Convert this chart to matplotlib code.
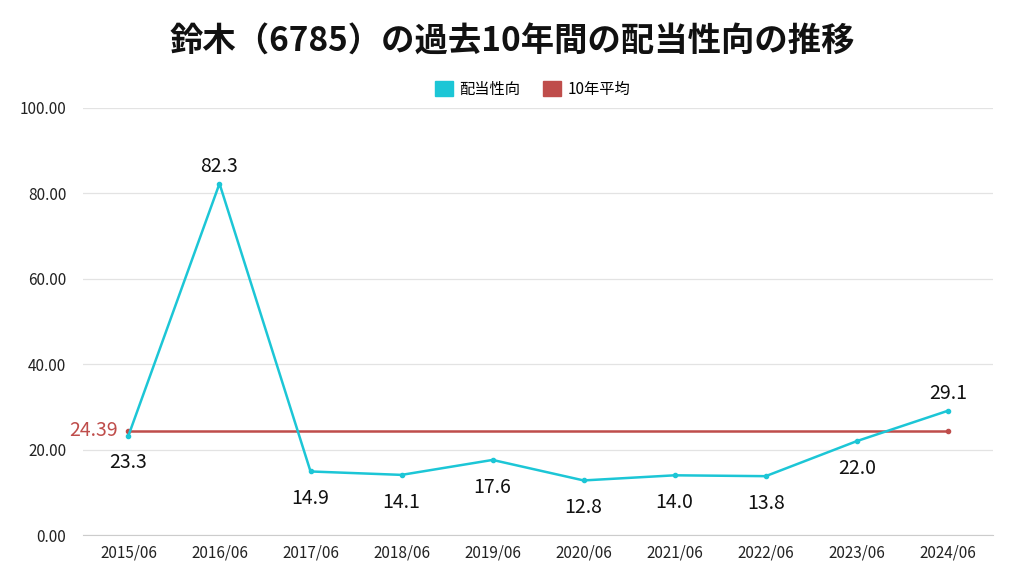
import matplotlib.pyplot as plt
from matplotlib.patches import Patch

plt.rcParams['font.family'] = ['Noto Sans CJK JP', 'DejaVu Sans']

years = ['2015/06', '2016/06', '2017/06', '2018/06', '2019/06',
         '2020/06', '2021/06', '2022/06', '2023/06', '2024/06']
payout = [23.3, 82.3, 14.9, 14.1, 17.6, 12.8, 14.0, 13.8, 22.0, 29.1]
avg10 = 24.39
label_above = [False, True, False, False, False, False, False, False, False, True]

cyan = '#1CC6D6'
red = '#BF4D4B'

fig = plt.figure(figsize=(10.24, 5.76), dpi=100)
ax = fig.add_axes([0.081, 0.071, 0.889, 0.7415])

x = list(range(len(years)))
ax.plot(x, payout, color=cyan, lw=1.8, marker='o', ms=3, zorder=3)
ax.plot([x[0], x[-1]], [avg10, avg10], color=red, lw=1.8, marker='o', ms=3, zorder=2)

for i, v in enumerate(payout):
    if label_above[i]:
        ax.annotate(f'{v:.1f}', (i, v), xytext=(0, 5), textcoords='offset points',
                    ha='center', va='bottom', fontsize=14, color='#111111')
    else:
        ax.annotate(f'{v:.1f}', (i, v), xytext=(0, -12), textcoords='offset points',
                    ha='center', va='top', fontsize=14, color='#111111')

ax.annotate(f'{avg10:.2f}', (0, avg10), xytext=(-8, 0), textcoords='offset points',
            ha='right', va='center', fontsize=14, color=red, annotation_clip=False)

ax.set_xlim(-0.5, len(years) - 0.5)
ax.set_ylim(0, 100)
ax.set_yticks([0, 20, 40, 60, 80, 100])
ax.set_yticklabels([f'{t:.2f}' for t in [0, 20, 40, 60, 80, 100]])
ax.set_xticks(x)
ax.set_xticklabels(years)
ax.tick_params(axis='both', length=0, labelsize=11, colors='#222222')
ax.tick_params(axis='x', pad=7)
ax.tick_params(axis='y', pad=12)
ax.grid(axis='y', color='#e3e3e3', lw=0.9)
ax.set_axisbelow(True)
for s in ['top', 'right', 'left']:
    ax.spines[s].set_visible(False)
ax.spines['bottom'].set_color('#cccccc')

handles = [Patch(color=cyan, label='配当性向'), Patch(color=red, label='10年平均')]
fig.legend(handles=handles, loc='center', bbox_to_anchor=(0.52, 0.845), ncol=2,
           frameon=False, fontsize=11, handlelength=1.2, handleheight=1.2,
           handletextpad=0.4, columnspacing=1.5)

fig.text(0.5, 0.927, '鈴木（6785）の過去10年間の配当性向の推移', ha='center', va='center',
         fontsize=24, fontweight='bold', color='#111111')

plt.savefig('out.png', dpi=100)
